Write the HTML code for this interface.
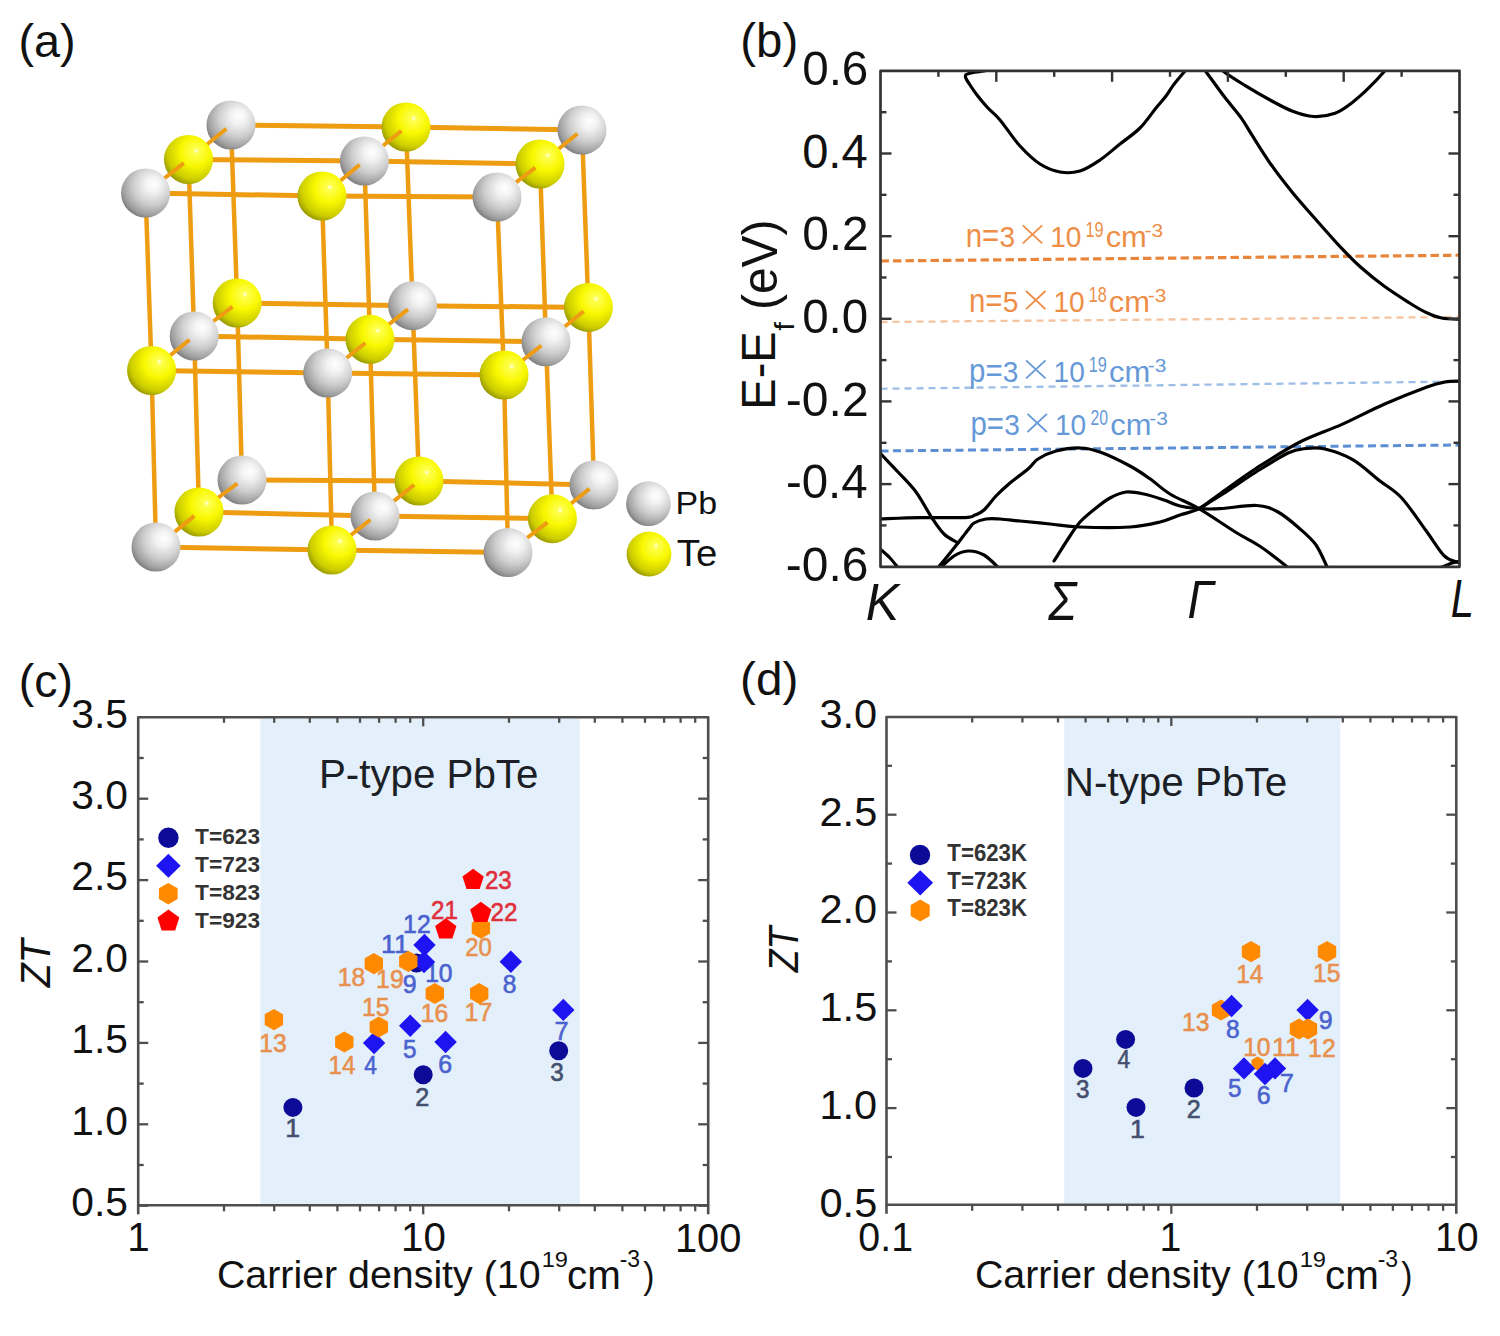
<!DOCTYPE html>
<html><head><meta charset="utf-8"><style>
html,body{margin:0;padding:0;background:#fff;}
svg{display:block;}
text{font-family:"Liberation Sans", sans-serif;}
</style></head><body>
<svg width="1500" height="1336" viewBox="0 0 1500 1336">
<rect width="1500" height="1336" fill="#fff"/>
<defs>
<radialGradient id="gG" cx="0.62" cy="0.36" r="0.72" fx="0.66" fy="0.32">
<stop offset="0" stop-color="#ffffff"/><stop offset="0.22" stop-color="#f2f2f2"/><stop offset="0.55" stop-color="#cdcdcd"/><stop offset="0.82" stop-color="#a0a0a0"/><stop offset="1" stop-color="#6e6e6e"/></radialGradient>
<radialGradient id="gY" cx="0.62" cy="0.36" r="0.72" fx="0.66" fy="0.32">
<stop offset="0" stop-color="#ffffe8"/><stop offset="0.08" stop-color="#ffff50"/><stop offset="0.42" stop-color="#f8f800"/><stop offset="0.78" stop-color="#cccc00"/><stop offset="1" stop-color="#888800"/></radialGradient>
</defs>
<line x1="231.0" y1="125.0" x2="406.0" y2="127.0" stroke="#EE9C12" stroke-width="5" />
<line x1="406.0" y1="127.0" x2="582.0" y2="130.0" stroke="#EE9C12" stroke-width="5" />
<line x1="237.2" y1="303.0" x2="412.6" y2="305.7" stroke="#EE9C12" stroke-width="5" />
<line x1="412.6" y1="305.7" x2="588.4" y2="307.4" stroke="#EE9C12" stroke-width="5" />
<line x1="242.0" y1="480.0" x2="419.0" y2="481.0" stroke="#EE9C12" stroke-width="5" />
<line x1="419.0" y1="481.0" x2="594.0" y2="485.0" stroke="#EE9C12" stroke-width="5" />
<line x1="231.0" y1="125.0" x2="237.2" y2="303.0" stroke="#EE9C12" stroke-width="4.5" />
<line x1="237.2" y1="303.0" x2="242.0" y2="480.0" stroke="#EE9C12" stroke-width="4.5" />
<line x1="406.0" y1="127.0" x2="412.6" y2="305.7" stroke="#EE9C12" stroke-width="4.5" />
<line x1="412.6" y1="305.7" x2="419.0" y2="481.0" stroke="#EE9C12" stroke-width="4.5" />
<line x1="582.0" y1="130.0" x2="588.4" y2="307.4" stroke="#EE9C12" stroke-width="4.5" />
<line x1="588.4" y1="307.4" x2="594.0" y2="485.0" stroke="#EE9C12" stroke-width="4.5" />
<circle cx="231.0" cy="125.0" r="24.5" fill="url(#gG)" />
<circle cx="406.0" cy="127.0" r="24.5" fill="url(#gY)" />
<circle cx="582.0" cy="130.0" r="24.5" fill="url(#gG)" />
<circle cx="237.2" cy="303.0" r="24.5" fill="url(#gY)" />
<circle cx="412.6" cy="305.7" r="24.5" fill="url(#gG)" />
<circle cx="588.4" cy="307.4" r="24.5" fill="url(#gY)" />
<circle cx="242.0" cy="480.0" r="24.5" fill="url(#gG)" />
<circle cx="419.0" cy="481.0" r="24.5" fill="url(#gY)" />
<circle cx="594.0" cy="485.0" r="24.5" fill="url(#gG)" />
<line x1="226.3" y1="128.8" x2="188.5" y2="159.5" stroke="#EE9C12" stroke-width="4.0" />
<line x1="401.4" y1="130.7" x2="364.4" y2="161.0" stroke="#EE9C12" stroke-width="4.0" />
<line x1="577.4" y1="133.7" x2="540.0" y2="164.0" stroke="#EE9C12" stroke-width="4.0" />
<line x1="232.5" y1="306.6" x2="194.2" y2="336.0" stroke="#EE9C12" stroke-width="4.0" />
<line x1="407.9" y1="309.4" x2="370.0" y2="339.3" stroke="#EE9C12" stroke-width="4.0" />
<line x1="583.7" y1="311.2" x2="546.0" y2="341.8" stroke="#EE9C12" stroke-width="4.0" />
<line x1="237.3" y1="483.5" x2="199.0" y2="512.0" stroke="#EE9C12" stroke-width="4.0" />
<line x1="414.2" y1="484.9" x2="375.0" y2="516.0" stroke="#EE9C12" stroke-width="4.0" />
<line x1="589.4" y1="488.7" x2="552.4" y2="518.7" stroke="#EE9C12" stroke-width="4.0" />
<line x1="188.5" y1="159.5" x2="364.4" y2="161.0" stroke="#EE9C12" stroke-width="5" />
<line x1="364.4" y1="161.0" x2="540.0" y2="164.0" stroke="#EE9C12" stroke-width="5" />
<line x1="194.2" y1="336.0" x2="370.0" y2="339.3" stroke="#EE9C12" stroke-width="5" />
<line x1="370.0" y1="339.3" x2="546.0" y2="341.8" stroke="#EE9C12" stroke-width="5" />
<line x1="199.0" y1="512.0" x2="375.0" y2="516.0" stroke="#EE9C12" stroke-width="5" />
<line x1="375.0" y1="516.0" x2="552.4" y2="518.7" stroke="#EE9C12" stroke-width="5" />
<line x1="188.5" y1="159.5" x2="194.2" y2="336.0" stroke="#EE9C12" stroke-width="4.5" />
<line x1="194.2" y1="336.0" x2="199.0" y2="512.0" stroke="#EE9C12" stroke-width="4.5" />
<line x1="364.4" y1="161.0" x2="370.0" y2="339.3" stroke="#EE9C12" stroke-width="4.5" />
<line x1="370.0" y1="339.3" x2="375.0" y2="516.0" stroke="#EE9C12" stroke-width="4.5" />
<line x1="540.0" y1="164.0" x2="546.0" y2="341.8" stroke="#EE9C12" stroke-width="4.5" />
<line x1="546.0" y1="341.8" x2="552.4" y2="518.7" stroke="#EE9C12" stroke-width="4.5" />
<circle cx="188.5" cy="159.5" r="24.5" fill="url(#gY)" />
<circle cx="364.4" cy="161.0" r="24.5" fill="url(#gG)" />
<circle cx="540.0" cy="164.0" r="24.5" fill="url(#gY)" />
<circle cx="194.2" cy="336.0" r="24.5" fill="url(#gG)" />
<circle cx="370.0" cy="339.3" r="24.5" fill="url(#gY)" />
<circle cx="546.0" cy="341.8" r="24.5" fill="url(#gG)" />
<circle cx="199.0" cy="512.0" r="24.5" fill="url(#gY)" />
<circle cx="375.0" cy="516.0" r="24.5" fill="url(#gG)" />
<circle cx="552.4" cy="518.7" r="24.5" fill="url(#gY)" />
<line x1="183.8" y1="163.2" x2="145.6" y2="193.0" stroke="#EE9C12" stroke-width="4.0" />
<line x1="359.7" y1="164.8" x2="322.0" y2="196.0" stroke="#EE9C12" stroke-width="4.0" />
<line x1="535.3" y1="167.6" x2="497.0" y2="197.0" stroke="#EE9C12" stroke-width="4.0" />
<line x1="189.5" y1="339.8" x2="151.6" y2="370.5" stroke="#EE9C12" stroke-width="4.0" />
<line x1="365.3" y1="343.0" x2="327.7" y2="373.0" stroke="#EE9C12" stroke-width="4.0" />
<line x1="541.4" y1="345.5" x2="504.0" y2="375.0" stroke="#EE9C12" stroke-width="4.0" />
<line x1="194.3" y1="515.9" x2="156.0" y2="547.0" stroke="#EE9C12" stroke-width="4.0" />
<line x1="370.3" y1="519.7" x2="332.0" y2="550.0" stroke="#EE9C12" stroke-width="4.0" />
<line x1="547.5" y1="522.4" x2="508.0" y2="552.5" stroke="#EE9C12" stroke-width="4.0" />
<line x1="145.6" y1="193.0" x2="322.0" y2="196.0" stroke="#EE9C12" stroke-width="5" />
<line x1="322.0" y1="196.0" x2="497.0" y2="197.0" stroke="#EE9C12" stroke-width="5" />
<line x1="151.6" y1="370.5" x2="327.7" y2="373.0" stroke="#EE9C12" stroke-width="5" />
<line x1="327.7" y1="373.0" x2="504.0" y2="375.0" stroke="#EE9C12" stroke-width="5" />
<line x1="156.0" y1="547.0" x2="332.0" y2="550.0" stroke="#EE9C12" stroke-width="5" />
<line x1="332.0" y1="550.0" x2="508.0" y2="552.5" stroke="#EE9C12" stroke-width="5" />
<line x1="145.6" y1="193.0" x2="151.6" y2="370.5" stroke="#EE9C12" stroke-width="4.5" />
<line x1="151.6" y1="370.5" x2="156.0" y2="547.0" stroke="#EE9C12" stroke-width="4.5" />
<line x1="322.0" y1="196.0" x2="327.7" y2="373.0" stroke="#EE9C12" stroke-width="4.5" />
<line x1="327.7" y1="373.0" x2="332.0" y2="550.0" stroke="#EE9C12" stroke-width="4.5" />
<line x1="497.0" y1="197.0" x2="504.0" y2="375.0" stroke="#EE9C12" stroke-width="4.5" />
<line x1="504.0" y1="375.0" x2="508.0" y2="552.5" stroke="#EE9C12" stroke-width="4.5" />
<circle cx="145.6" cy="193.0" r="24.5" fill="url(#gG)" />
<circle cx="322.0" cy="196.0" r="24.5" fill="url(#gY)" />
<circle cx="497.0" cy="197.0" r="24.5" fill="url(#gG)" />
<circle cx="151.6" cy="370.5" r="24.5" fill="url(#gY)" />
<circle cx="327.7" cy="373.0" r="24.5" fill="url(#gG)" />
<circle cx="504.0" cy="375.0" r="24.5" fill="url(#gY)" />
<circle cx="156.0" cy="547.0" r="24.5" fill="url(#gG)" />
<circle cx="332.0" cy="550.0" r="24.5" fill="url(#gY)" />
<circle cx="508.0" cy="552.5" r="24.5" fill="url(#gG)" />
<circle cx="648.5" cy="503.7" r="22.4" fill="url(#gG)" />
<circle cx="649.0" cy="554.0" r="22.4" fill="url(#gY)" />
<text x="675.62" y="514.00" font-size="30.91" fill="#111" textLength="41.51" lengthAdjust="spacingAndGlyphs" >Pb</text>
<text x="676.72" y="566.00" font-size="37.79" fill="#111" textLength="40.52" lengthAdjust="spacingAndGlyphs" >Te</text>
<text x="18.40" y="57.06" font-size="46.58" fill="#111" textLength="57.21" lengthAdjust="spacingAndGlyphs" >(a)</text>
<line x1="880.5" y1="261.0" x2="1459.5" y2="255.2" stroke="#E8853A" stroke-width="3.2" stroke-dasharray="8.4 4.1"/>
<line x1="880.5" y1="322.0" x2="1459.5" y2="317.0" stroke="#F6C3A0" stroke-width="2.3" stroke-dasharray="7 5"/>
<line x1="880.5" y1="388.8" x2="1459.5" y2="381.5" stroke="#9DBEE6" stroke-width="2.3" stroke-dasharray="7 5"/>
<line x1="880.5" y1="451.0" x2="1459.5" y2="445.0" stroke="#5B8ED2" stroke-width="3.0" stroke-dasharray="8 4.5"/>
<clipPath id="cb"><rect x="880.5" y="70.8" width="579.0" height="495.99999999999994"/></clipPath>
<g clip-path="url(#cb)">
<path d="M990.0,70.0 C986.5,70.6 973.1,72.3 969.0,73.5 C964.9,74.7 965.3,75.1 965.5,77.0 C965.7,78.9 968.1,82.0 970.0,85.0 C971.9,88.0 974.2,91.3 977.0,95.0 C979.8,98.7 983.2,102.8 987.0,107.0 C990.8,111.2 994.5,113.5 1000.0,120.0 C1005.5,126.5 1013.3,138.7 1020.0,146.0 C1026.7,153.3 1033.3,159.7 1040.0,164.0 C1046.7,168.3 1053.3,170.8 1060.0,172.0 C1066.7,173.2 1073.3,173.0 1080.0,171.0 C1086.7,169.0 1093.3,164.5 1100.0,160.0 C1106.7,155.5 1113.3,149.3 1120.0,144.0 C1126.7,138.7 1134.0,134.0 1140.0,128.0 C1146.0,122.0 1151.7,113.3 1156.0,108.0 C1160.3,102.7 1163.2,99.7 1166.0,96.0 C1168.8,92.3 1170.1,89.5 1173.0,85.6 C1175.9,81.7 1180.7,76.1 1183.5,72.8 C1186.3,69.5 1188.9,67.1 1190.0,66.0" fill="none" stroke="#000" stroke-width="3.2" stroke-linejoin="round" stroke-linecap="round" />
<path d="M1200.0,64.0 C1201.0,65.3 1202.0,66.3 1206.0,71.7 C1210.0,77.1 1218.2,88.7 1224.0,96.3 C1229.8,103.9 1236.4,111.2 1241.0,117.6 C1245.6,124.0 1246.7,126.9 1251.7,134.7 C1256.7,142.5 1264.3,154.9 1271.0,164.5 C1277.7,174.1 1284.2,182.4 1292.0,192.0 C1299.8,201.6 1309.8,212.7 1318.0,222.0 C1326.2,231.3 1333.9,240.2 1341.0,247.7 C1348.1,255.2 1353.3,260.6 1360.5,267.0 C1367.7,273.4 1375.8,280.0 1384.0,286.0 C1392.2,292.0 1402.5,298.5 1409.6,303.0 C1416.7,307.5 1421.4,310.3 1426.7,312.8 C1432.0,315.3 1435.7,316.9 1441.6,318.0 C1447.5,319.1 1458.6,319.2 1462.0,319.5" fill="none" stroke="#000" stroke-width="3.2" stroke-linejoin="round" stroke-linecap="round" />
<path d="M1218.0,64.0 C1219.0,65.3 1219.5,68.1 1224.0,71.7 C1228.5,75.3 1237.5,80.8 1245.3,85.6 C1253.1,90.4 1263.2,96.3 1271.0,100.5 C1278.8,104.7 1284.9,108.3 1292.0,111.0 C1299.1,113.7 1306.4,116.1 1313.6,116.5 C1320.8,116.9 1328.6,115.6 1335.0,113.3 C1341.4,111.0 1346.3,107.0 1352.0,102.7 C1357.7,98.4 1363.7,92.9 1369.0,87.7 C1374.3,82.5 1380.5,75.7 1384.0,71.7 C1387.5,67.8 1389.0,65.3 1390.0,64.0" fill="none" stroke="#000" stroke-width="3.2" stroke-linejoin="round" stroke-linecap="round" />
<path d="M878.0,450.0 C878.3,450.5 876.7,449.3 880.0,453.0 C883.3,456.7 892.0,465.5 898.0,472.0 C904.0,478.5 910.3,484.3 916.0,492.0 C921.7,499.7 927.3,511.0 932.0,518.0 C936.7,525.0 939.7,529.8 944.0,534.0 C948.3,538.2 955.7,541.5 958.0,543.0" fill="none" stroke="#000" stroke-width="3.2" stroke-linejoin="round" stroke-linecap="round" />
<path d="M936.0,570.0 C937.7,568.0 942.3,562.5 946.0,558.0 C949.7,553.5 954.3,547.7 958.0,543.0 C961.7,538.3 965.3,533.3 968.0,530.0 C970.7,526.7 971.0,524.8 974.0,523.0 C977.0,521.2 981.7,519.7 986.0,519.0 C990.3,518.3 994.3,518.7 1000.0,519.0 C1005.7,519.3 1011.7,520.2 1020.0,521.0 C1028.3,521.8 1040.0,523.0 1050.0,524.0 C1060.0,525.0 1066.7,526.5 1080.0,527.0 C1093.3,527.5 1116.7,527.8 1130.0,527.0 C1143.3,526.2 1151.7,524.0 1160.0,522.0 C1168.3,520.0 1173.5,517.2 1180.0,515.0 C1186.5,512.8 1192.3,512.2 1199.0,508.7 C1205.7,505.1 1210.4,500.5 1220.0,493.7 C1229.6,486.9 1243.5,476.5 1256.7,468.0 C1269.9,459.5 1284.8,449.8 1299.0,442.5 C1313.2,435.2 1327.7,430.8 1342.0,424.4 C1356.3,418.0 1370.5,410.2 1384.7,404.0 C1398.9,397.8 1417.0,390.7 1427.0,387.0 C1437.0,383.3 1439.2,383.0 1445.0,382.0 C1450.8,381.0 1459.2,381.2 1462.0,381.0" fill="none" stroke="#000" stroke-width="3.2" stroke-linejoin="round" stroke-linecap="round" />
<path d="M878.0,519.0 C885.0,518.8 905.5,517.8 920.0,517.6 C934.5,517.4 955.8,518.0 965.0,517.6 C974.2,517.2 971.8,516.3 975.0,515.0 C978.2,513.7 980.5,513.2 984.0,510.0 C987.5,506.8 991.7,500.5 996.0,496.0 C1000.3,491.5 1004.7,487.5 1010.0,483.0 C1015.3,478.5 1023.3,473.0 1028.0,469.0 C1032.7,465.0 1033.3,462.0 1038.0,459.0 C1042.7,456.0 1049.0,452.8 1056.0,451.0 C1063.0,449.2 1072.7,447.8 1080.0,448.0 C1087.3,448.2 1091.7,449.0 1100.0,452.0 C1108.3,455.0 1121.7,461.5 1130.0,466.0 C1138.3,470.5 1143.3,474.1 1150.0,478.8 C1156.7,483.5 1161.8,489.0 1170.0,494.0 C1178.2,499.0 1188.1,502.4 1199.0,508.7 C1209.9,515.0 1225.0,525.6 1235.3,532.0 C1245.6,538.4 1251.9,540.8 1261.0,547.0 C1270.1,553.2 1285.2,565.3 1290.0,569.0" fill="none" stroke="#000" stroke-width="3.2" stroke-linejoin="round" stroke-linecap="round" />
<path d="M938.0,570.0 C940.7,567.7 949.0,559.2 954.0,556.0 C959.0,552.8 963.0,551.2 968.0,551.0 C973.0,550.8 978.7,552.0 984.0,555.0 C989.3,558.0 997.3,566.7 1000.0,569.0" fill="none" stroke="#000" stroke-width="3.2" stroke-linejoin="round" stroke-linecap="round" />
<path d="M878.0,548.0 C878.3,548.2 878.0,547.3 880.0,549.0 C882.0,550.7 886.8,554.7 890.0,558.0 C893.2,561.3 897.5,567.2 899.0,569.0" fill="none" stroke="#000" stroke-width="3.2" stroke-linejoin="round" stroke-linecap="round" />
<path d="M1054.0,561.0 C1056.7,556.8 1065.7,542.5 1070.0,536.0 C1074.3,529.5 1075.7,526.7 1080.0,522.0 C1084.3,517.3 1091.0,512.0 1096.0,508.0 C1101.0,504.0 1105.0,500.7 1110.0,498.0 C1115.0,495.3 1120.3,492.7 1126.0,492.0 C1131.7,491.3 1137.7,492.7 1144.0,494.0 C1150.3,495.3 1158.0,498.0 1164.0,500.0 C1170.0,502.0 1174.2,504.6 1180.0,506.0 C1185.8,507.4 1192.3,508.2 1199.0,508.7 C1205.7,509.1 1210.4,509.2 1220.0,508.7 C1229.6,508.2 1247.0,504.9 1256.7,505.5 C1266.4,506.1 1271.0,508.2 1278.0,512.0 C1285.0,515.8 1292.7,522.5 1299.0,528.0 C1305.3,533.5 1311.2,538.2 1316.0,545.0 C1320.8,551.8 1326.0,565.0 1328.0,569.0" fill="none" stroke="#000" stroke-width="3.2" stroke-linejoin="round" stroke-linecap="round" />
<path d="M1199.0,508.7 C1202.8,506.3 1212.5,500.6 1222.0,494.5 C1231.5,488.4 1245.0,478.9 1256.0,472.0 C1267.0,465.1 1279.7,456.9 1288.0,453.0 C1296.3,449.1 1299.8,449.2 1306.0,448.5 C1312.2,447.8 1317.2,447.1 1325.0,449.0 C1332.8,450.9 1343.5,454.3 1352.7,459.6 C1361.9,464.9 1371.8,474.6 1380.0,481.0 C1388.2,487.4 1393.9,489.5 1401.7,498.0 C1409.5,506.5 1420.0,522.4 1427.0,532.0 C1434.0,541.6 1439.0,550.6 1444.0,555.6 C1449.0,560.6 1454.0,560.8 1457.0,562.0 C1460.0,563.2 1461.2,562.8 1462.0,563.0" fill="none" stroke="#000" stroke-width="3.2" stroke-linejoin="round" stroke-linecap="round" />
<path d="M1440.0,568.0 C1442.0,567.2 1448.3,564.2 1452.0,563.0 C1455.7,561.8 1460.3,561.3 1462.0,561.0" fill="none" stroke="#000" stroke-width="3.2" stroke-linejoin="round" stroke-linecap="round" />
</g>
<rect x="880.5" y="70.8" width="579.0" height="495.99999999999994" fill="none" stroke="#333" stroke-width="2.7" stroke-linejoin="round"/>
<line x1="880.5" y1="525.4" x2="886.5" y2="525.4" stroke="#333" stroke-width="2.4" />
<line x1="1459.5" y1="525.4" x2="1453.5" y2="525.4" stroke="#333" stroke-width="2.4" />
<line x1="880.5" y1="484.1" x2="891.5" y2="484.1" stroke="#333" stroke-width="2.4" />
<line x1="1459.5" y1="484.1" x2="1448.5" y2="484.1" stroke="#333" stroke-width="2.4" />
<line x1="880.5" y1="442.8" x2="886.5" y2="442.8" stroke="#333" stroke-width="2.4" />
<line x1="1459.5" y1="442.8" x2="1453.5" y2="442.8" stroke="#333" stroke-width="2.4" />
<line x1="880.5" y1="401.4" x2="891.5" y2="401.4" stroke="#333" stroke-width="2.4" />
<line x1="1459.5" y1="401.4" x2="1448.5" y2="401.4" stroke="#333" stroke-width="2.4" />
<line x1="880.5" y1="360.1" x2="886.5" y2="360.1" stroke="#333" stroke-width="2.4" />
<line x1="1459.5" y1="360.1" x2="1453.5" y2="360.1" stroke="#333" stroke-width="2.4" />
<line x1="880.5" y1="318.8" x2="891.5" y2="318.8" stroke="#333" stroke-width="2.4" />
<line x1="1459.5" y1="318.8" x2="1448.5" y2="318.8" stroke="#333" stroke-width="2.4" />
<line x1="880.5" y1="277.5" x2="886.5" y2="277.5" stroke="#333" stroke-width="2.4" />
<line x1="1459.5" y1="277.5" x2="1453.5" y2="277.5" stroke="#333" stroke-width="2.4" />
<line x1="880.5" y1="236.2" x2="891.5" y2="236.2" stroke="#333" stroke-width="2.4" />
<line x1="1459.5" y1="236.2" x2="1448.5" y2="236.2" stroke="#333" stroke-width="2.4" />
<line x1="880.5" y1="194.8" x2="886.5" y2="194.8" stroke="#333" stroke-width="2.4" />
<line x1="1459.5" y1="194.8" x2="1453.5" y2="194.8" stroke="#333" stroke-width="2.4" />
<line x1="880.5" y1="153.5" x2="891.5" y2="153.5" stroke="#333" stroke-width="2.4" />
<line x1="1459.5" y1="153.5" x2="1448.5" y2="153.5" stroke="#333" stroke-width="2.4" />
<line x1="880.5" y1="112.2" x2="886.5" y2="112.2" stroke="#333" stroke-width="2.4" />
<line x1="1459.5" y1="112.2" x2="1453.5" y2="112.2" stroke="#333" stroke-width="2.4" />
<line x1="938.4" y1="70.8" x2="938.4" y2="76.8" stroke="#333" stroke-width="2.4" />
<line x1="996.3" y1="70.8" x2="996.3" y2="81.8" stroke="#333" stroke-width="2.4" />
<line x1="1054.2" y1="70.8" x2="1054.2" y2="76.8" stroke="#333" stroke-width="2.4" />
<line x1="1112.1" y1="70.8" x2="1112.1" y2="81.8" stroke="#333" stroke-width="2.4" />
<line x1="1170.0" y1="70.8" x2="1170.0" y2="76.8" stroke="#333" stroke-width="2.4" />
<line x1="1227.9" y1="70.8" x2="1227.9" y2="81.8" stroke="#333" stroke-width="2.4" />
<line x1="1285.8" y1="70.8" x2="1285.8" y2="76.8" stroke="#333" stroke-width="2.4" />
<line x1="1343.7" y1="70.8" x2="1343.7" y2="81.8" stroke="#333" stroke-width="2.4" />
<line x1="1401.6" y1="70.8" x2="1401.6" y2="76.8" stroke="#333" stroke-width="2.4" />
<text x="802.14" y="85.18" font-size="48.69" fill="#111" textLength="66.26" lengthAdjust="spacingAndGlyphs" >0.6</text>
<text x="802.16" y="167.82" font-size="48.69" fill="#111" textLength="65.52" lengthAdjust="spacingAndGlyphs" >0.4</text>
<text x="802.13" y="250.46" font-size="48.69" fill="#111" textLength="66.58" lengthAdjust="spacingAndGlyphs" >0.2</text>
<text x="802.15" y="333.10" font-size="48.69" fill="#111" textLength="66.01" lengthAdjust="spacingAndGlyphs" >0.0</text>
<text x="785.86" y="415.74" font-size="48.69" fill="#111" textLength="82.85" lengthAdjust="spacingAndGlyphs" >-0.2</text>
<text x="785.89" y="498.38" font-size="48.69" fill="#111" textLength="81.80" lengthAdjust="spacingAndGlyphs" >-0.4</text>
<text x="785.87" y="581.02" font-size="48.69" fill="#111" textLength="82.53" lengthAdjust="spacingAndGlyphs" >-0.6</text>
<text x="865.66" y="619.60" font-size="52.33" fill="#111" textLength="33.31" lengthAdjust="spacingAndGlyphs" font-style="italic" >K</text>
<text x="1048.14" y="619.60" font-size="54.65" fill="#111" textLength="28.20" lengthAdjust="spacingAndGlyphs" font-style="italic" >Σ</text>
<text x="1187.56" y="618.00" font-size="53.74" fill="#111" textLength="26.77" lengthAdjust="spacingAndGlyphs" font-style="italic" >Γ</text>
<text x="1450.72" y="617.00" font-size="54.51" fill="#111" textLength="23.20" lengthAdjust="spacingAndGlyphs" font-style="italic" >L</text>
<g transform="rotate(-90)">
<text x="-409.76" y="775.40" font-size="48.11" fill="#111" textLength="78.49" lengthAdjust="spacingAndGlyphs" >E-E</text>
<text x="-330.84" y="794.40" font-size="28.19" fill="#111" textLength="8.70" lengthAdjust="spacingAndGlyphs" >f</text>
<text x="-310.07" y="776.54" font-size="49.05" fill="#111" textLength="90.54" lengthAdjust="spacingAndGlyphs" >(eV)</text>
</g>
<text x="740.36" y="56.92" font-size="47.23" fill="#111" textLength="57.87" lengthAdjust="spacingAndGlyphs" >(b)</text>
<text x="965.75" y="246.50" font-size="32.52" fill="#EE8E46" textLength="33.50" lengthAdjust="spacingAndGlyphs" >n=</text>
<text x="999.53" y="246.52" font-size="29.10" fill="#EE8E46" textLength="15.60" lengthAdjust="spacingAndGlyphs" >3</text>
<line x1="1022.8" y1="225.3" x2="1042.2" y2="243.4" stroke="#EE8E46" stroke-width="1.8" />
<line x1="1042.2" y1="225.3" x2="1022.8" y2="243.4" stroke="#EE8E46" stroke-width="1.8" />
<text x="1050.26" y="246.51" font-size="30.08" fill="#EE8E46" textLength="31.24" lengthAdjust="spacingAndGlyphs" >10</text>
<text x="1085.46" y="236.68" font-size="22.03" fill="#EE8E46" textLength="18.11" lengthAdjust="spacingAndGlyphs" >19</text>
<text x="1105.69" y="246.50" font-size="29.92" fill="#EE8E46" textLength="41.15" lengthAdjust="spacingAndGlyphs" >cm</text>
<text x="1144.57" y="236.71" font-size="19.07" fill="#EE8E46" textLength="18.65" lengthAdjust="spacingAndGlyphs" >-3</text>
<text x="968.95" y="312.20" font-size="32.52" fill="#EE8E46" textLength="33.50" lengthAdjust="spacingAndGlyphs" >n=</text>
<text x="1002.68" y="312.21" font-size="29.52" fill="#EE8E46" textLength="15.60" lengthAdjust="spacingAndGlyphs" >5</text>
<line x1="1026.0" y1="291.0" x2="1045.4" y2="309.1" stroke="#EE8E46" stroke-width="1.8" />
<line x1="1045.4" y1="291.0" x2="1026.0" y2="309.1" stroke="#EE8E46" stroke-width="1.8" />
<text x="1053.46" y="312.21" font-size="30.08" fill="#EE8E46" textLength="31.24" lengthAdjust="spacingAndGlyphs" >10</text>
<text x="1088.66" y="302.38" font-size="22.03" fill="#EE8E46" textLength="18.04" lengthAdjust="spacingAndGlyphs" >18</text>
<text x="1108.89" y="312.20" font-size="29.92" fill="#EE8E46" textLength="41.15" lengthAdjust="spacingAndGlyphs" >cm</text>
<text x="1147.77" y="302.41" font-size="19.07" fill="#EE8E46" textLength="18.65" lengthAdjust="spacingAndGlyphs" >-3</text>
<text x="969.11" y="381.50" font-size="32.55" fill="#6699D8" textLength="33.44" lengthAdjust="spacingAndGlyphs" >p=</text>
<text x="1002.83" y="381.52" font-size="29.10" fill="#6699D8" textLength="15.60" lengthAdjust="spacingAndGlyphs" >3</text>
<line x1="1026.1" y1="360.3" x2="1045.5" y2="378.4" stroke="#6699D8" stroke-width="1.8" />
<line x1="1045.5" y1="360.3" x2="1026.1" y2="378.4" stroke="#6699D8" stroke-width="1.8" />
<text x="1053.56" y="381.51" font-size="30.08" fill="#6699D8" textLength="31.24" lengthAdjust="spacingAndGlyphs" >10</text>
<text x="1088.76" y="371.68" font-size="22.03" fill="#6699D8" textLength="18.11" lengthAdjust="spacingAndGlyphs" >19</text>
<text x="1108.99" y="381.50" font-size="29.92" fill="#6699D8" textLength="41.15" lengthAdjust="spacingAndGlyphs" >cm</text>
<text x="1147.87" y="371.71" font-size="19.07" fill="#6699D8" textLength="18.65" lengthAdjust="spacingAndGlyphs" >-3</text>
<text x="970.51" y="435.10" font-size="32.55" fill="#6699D8" textLength="33.44" lengthAdjust="spacingAndGlyphs" >p=</text>
<text x="1004.23" y="435.12" font-size="29.10" fill="#6699D8" textLength="15.60" lengthAdjust="spacingAndGlyphs" >3</text>
<line x1="1027.5" y1="413.9" x2="1046.9" y2="432.0" stroke="#6699D8" stroke-width="1.8" />
<line x1="1046.9" y1="413.9" x2="1027.5" y2="432.0" stroke="#6699D8" stroke-width="1.8" />
<text x="1054.96" y="435.11" font-size="30.08" fill="#6699D8" textLength="31.24" lengthAdjust="spacingAndGlyphs" >10</text>
<text x="1090.61" y="425.28" font-size="22.03" fill="#6699D8" textLength="17.51" lengthAdjust="spacingAndGlyphs" >20</text>
<text x="1110.39" y="435.10" font-size="29.92" fill="#6699D8" textLength="41.15" lengthAdjust="spacingAndGlyphs" >cm</text>
<text x="1149.27" y="425.31" font-size="19.07" fill="#6699D8" textLength="18.65" lengthAdjust="spacingAndGlyphs" >-3</text>
<rect x="260.5" y="718.5999999999999" width="319.20000000000005" height="485.4" fill="#E3EFFA"/>
<circle cx="168.4" cy="837.7" r="10.2" fill="#0D0A98" />
<polygon points="168.40,853.70 180.70,865.70 168.40,877.70 156.10,865.70" fill="#1E14F2" />
<polygon points="168.30,882.90 177.65,888.30 177.65,899.10 168.30,904.50 158.95,899.10 158.95,888.30" fill="#FF8A00" />
<polygon points="168.40,909.60 179.34,917.55 175.16,930.40 161.64,930.40 157.46,917.55" fill="#FF0000" />
<text x="195.04" y="843.70" font-size="22.91" fill="#333" textLength="65.08" lengthAdjust="spacingAndGlyphs" font-weight="bold" >T=623</text>
<text x="195.04" y="871.70" font-size="22.91" fill="#333" textLength="65.08" lengthAdjust="spacingAndGlyphs" font-weight="bold" >T=723</text>
<text x="195.04" y="899.70" font-size="22.91" fill="#333" textLength="65.08" lengthAdjust="spacingAndGlyphs" font-weight="bold" >T=823</text>
<text x="195.04" y="927.70" font-size="22.91" fill="#333" textLength="65.08" lengthAdjust="spacingAndGlyphs" font-weight="bold" >T=923</text>
<text x="318.96" y="787.60" font-size="40.70" fill="#1c1f26" textLength="219.40" lengthAdjust="spacingAndGlyphs" >P-type PbTe</text>
<text x="285.17" y="1137.20" font-size="26.16" fill="#44506E" textLength="14.83" lengthAdjust="spacingAndGlyphs" stroke="#44506E" stroke-width="0.6">1</text>
<text x="415.13" y="1105.50" font-size="25.78" fill="#44506E" textLength="14.04" lengthAdjust="spacingAndGlyphs" stroke="#44506E" stroke-width="0.6">2</text>
<text x="550.28" y="1081.45" font-size="25.42" fill="#44506E" textLength="13.49" lengthAdjust="spacingAndGlyphs" stroke="#44506E" stroke-width="0.6">3</text>
<text x="364.28" y="1073.60" font-size="26.16" fill="#4A62CF" textLength="12.69" lengthAdjust="spacingAndGlyphs" stroke="#4A62CF" stroke-width="0.6">4</text>
<text x="403.03" y="1057.55" font-size="25.80" fill="#4A62CF" textLength="13.49" lengthAdjust="spacingAndGlyphs" stroke="#4A62CF" stroke-width="0.6">5</text>
<text x="438.23" y="1073.35" font-size="25.42" fill="#4A62CF" textLength="13.86" lengthAdjust="spacingAndGlyphs" stroke="#4A62CF" stroke-width="0.6">6</text>
<text x="554.50" y="1039.80" font-size="26.16" fill="#4A62CF" textLength="14.07" lengthAdjust="spacingAndGlyphs" stroke="#4A62CF" stroke-width="0.6">7</text>
<text x="502.83" y="993.05" font-size="25.42" fill="#4A62CF" textLength="13.63" lengthAdjust="spacingAndGlyphs" stroke="#4A62CF" stroke-width="0.6">8</text>
<text x="402.63" y="992.85" font-size="25.42" fill="#4A62CF" textLength="13.85" lengthAdjust="spacingAndGlyphs" stroke="#4A62CF" stroke-width="0.6">9</text>
<text x="425.13" y="982.05" font-size="25.42" fill="#4A62CF" textLength="27.33" lengthAdjust="spacingAndGlyphs" stroke="#4A62CF" stroke-width="0.6">10</text>
<text x="381.11" y="952.80" font-size="26.16" fill="#4A62CF" textLength="27.60" lengthAdjust="spacingAndGlyphs" stroke="#4A62CF" stroke-width="0.6">11</text>
<text x="403.11" y="932.90" font-size="25.78" fill="#4A62CF" textLength="27.64" lengthAdjust="spacingAndGlyphs" stroke="#4A62CF" stroke-width="0.6">12</text>
<text x="259.32" y="1051.85" font-size="25.42" fill="#E8914E" textLength="27.47" lengthAdjust="spacingAndGlyphs" stroke="#E8914E" stroke-width="0.6">13</text>
<text x="328.45" y="1073.60" font-size="26.16" fill="#E8914E" textLength="27.07" lengthAdjust="spacingAndGlyphs" stroke="#E8914E" stroke-width="0.6">14</text>
<text x="362.02" y="1016.45" font-size="25.80" fill="#E8914E" textLength="27.41" lengthAdjust="spacingAndGlyphs" stroke="#E8914E" stroke-width="0.6">15</text>
<text x="420.82" y="1022.05" font-size="25.42" fill="#E8914E" textLength="27.47" lengthAdjust="spacingAndGlyphs" stroke="#E8914E" stroke-width="0.6">16</text>
<text x="464.61" y="1021.30" font-size="26.16" fill="#E8914E" textLength="27.64" lengthAdjust="spacingAndGlyphs" stroke="#E8914E" stroke-width="0.6">17</text>
<text x="337.72" y="985.55" font-size="25.42" fill="#E8914E" textLength="27.45" lengthAdjust="spacingAndGlyphs" stroke="#E8914E" stroke-width="0.6">18</text>
<text x="376.11" y="988.25" font-size="25.42" fill="#E8914E" textLength="27.56" lengthAdjust="spacingAndGlyphs" stroke="#E8914E" stroke-width="0.6">19</text>
<text x="465.30" y="955.75" font-size="25.42" fill="#E8914E" textLength="26.64" lengthAdjust="spacingAndGlyphs" stroke="#E8914E" stroke-width="0.6">20</text>
<text x="430.98" y="918.50" font-size="25.78" fill="#E0303C" textLength="26.90" lengthAdjust="spacingAndGlyphs" stroke="#E0303C" stroke-width="0.6">21</text>
<text x="490.48" y="920.50" font-size="25.78" fill="#E0303C" textLength="26.94" lengthAdjust="spacingAndGlyphs" stroke="#E0303C" stroke-width="0.6">22</text>
<text x="484.89" y="888.55" font-size="25.42" fill="#E0303C" textLength="26.77" lengthAdjust="spacingAndGlyphs" stroke="#E0303C" stroke-width="0.6">23</text>
<circle cx="416.5" cy="963.0" r="9.5" fill="#0D0A98" />
<circle cx="292.9" cy="1107.4" r="9.5" fill="#0D0A98" />
<circle cx="423.2" cy="1074.7" r="9.5" fill="#0D0A98" />
<circle cx="558.7" cy="1050.7" r="9.5" fill="#0D0A98" />
<polygon points="374.10,1031.80 385.30,1043.00 374.10,1054.20 362.90,1043.00" fill="#1E14F2" />
<polygon points="410.20,1014.60 421.40,1025.80 410.20,1037.00 399.00,1025.80" fill="#1E14F2" />
<polygon points="445.60,1030.80 456.80,1042.00 445.60,1053.20 434.40,1042.00" fill="#1E14F2" />
<polygon points="563.30,998.70 574.50,1009.90 563.30,1021.10 552.10,1009.90" fill="#1E14F2" />
<polygon points="510.80,950.50 522.00,961.70 510.80,972.90 499.60,961.70" fill="#1E14F2" />
<polygon points="424.50,933.80 435.70,945.00 424.50,956.20 413.30,945.00" fill="#1E14F2" />
<polygon points="424.00,950.90 435.20,962.10 424.00,973.30 412.80,962.10" fill="#1E14F2" />
<polygon points="273.90,1009.00 283.08,1014.30 283.08,1024.90 273.90,1030.20 264.72,1024.90 264.72,1014.30" fill="#FF8A00" />
<polygon points="344.30,1031.40 353.48,1036.70 353.48,1047.30 344.30,1052.60 335.12,1047.30 335.12,1036.70" fill="#FF8A00" />
<polygon points="378.80,1016.40 387.98,1021.70 387.98,1032.30 378.80,1037.60 369.62,1032.30 369.62,1021.70" fill="#FF8A00" />
<polygon points="434.80,982.90 443.98,988.20 443.98,998.80 434.80,1004.10 425.62,998.80 425.62,988.20" fill="#FF8A00" />
<polygon points="479.20,982.90 488.38,988.20 488.38,998.80 479.20,1004.10 470.02,998.80 470.02,988.20" fill="#FF8A00" />
<polygon points="373.80,953.00 382.98,958.30 382.98,968.90 373.80,974.20 364.62,968.90 364.62,958.30" fill="#FF8A00" />
<polygon points="408.30,950.80 417.48,956.10 417.48,966.70 408.30,972.00 399.12,966.70 399.12,956.10" fill="#FF8A00" />
<polygon points="480.90,917.50 490.08,922.80 490.08,933.40 480.90,938.70 471.72,933.40 471.72,922.80" fill="#FF8A00" />
<polygon points="445.80,918.30 456.45,926.04 452.38,938.56 439.22,938.56 435.15,926.04" fill="#FF0000" />
<polygon points="480.80,901.70 491.45,909.44 487.38,921.96 474.22,921.96 470.15,909.44" fill="#FF0000" />
<polygon points="473.10,868.70 483.75,876.44 479.68,888.96 466.52,888.96 462.45,876.44" fill="#FF0000" />
<rect x="138.2" y="717.3" width="570.0" height="488.0" fill="none" stroke="#4e4e4e" stroke-width="2.6" stroke-linejoin="round"/>
<line x1="138.2" y1="1205.7" x2="148.2" y2="1205.7" stroke="#4e4e4e" stroke-width="2.3" />
<line x1="708.2" y1="1205.7" x2="698.2" y2="1205.7" stroke="#4e4e4e" stroke-width="2.3" />
<line x1="138.2" y1="1124.3" x2="148.2" y2="1124.3" stroke="#4e4e4e" stroke-width="2.3" />
<line x1="708.2" y1="1124.3" x2="698.2" y2="1124.3" stroke="#4e4e4e" stroke-width="2.3" />
<line x1="138.2" y1="1042.9" x2="148.2" y2="1042.9" stroke="#4e4e4e" stroke-width="2.3" />
<line x1="708.2" y1="1042.9" x2="698.2" y2="1042.9" stroke="#4e4e4e" stroke-width="2.3" />
<line x1="138.2" y1="961.5" x2="148.2" y2="961.5" stroke="#4e4e4e" stroke-width="2.3" />
<line x1="708.2" y1="961.5" x2="698.2" y2="961.5" stroke="#4e4e4e" stroke-width="2.3" />
<line x1="138.2" y1="880.1" x2="148.2" y2="880.1" stroke="#4e4e4e" stroke-width="2.3" />
<line x1="708.2" y1="880.1" x2="698.2" y2="880.1" stroke="#4e4e4e" stroke-width="2.3" />
<line x1="138.2" y1="798.7" x2="148.2" y2="798.7" stroke="#4e4e4e" stroke-width="2.3" />
<line x1="708.2" y1="798.7" x2="698.2" y2="798.7" stroke="#4e4e4e" stroke-width="2.3" />
<line x1="138.2" y1="1165.0" x2="143.7" y2="1165.0" stroke="#4e4e4e" stroke-width="2.3" />
<line x1="708.2" y1="1165.0" x2="702.7" y2="1165.0" stroke="#4e4e4e" stroke-width="2.3" />
<line x1="138.2" y1="1083.6" x2="143.7" y2="1083.6" stroke="#4e4e4e" stroke-width="2.3" />
<line x1="708.2" y1="1083.6" x2="702.7" y2="1083.6" stroke="#4e4e4e" stroke-width="2.3" />
<line x1="138.2" y1="1002.2" x2="143.7" y2="1002.2" stroke="#4e4e4e" stroke-width="2.3" />
<line x1="708.2" y1="1002.2" x2="702.7" y2="1002.2" stroke="#4e4e4e" stroke-width="2.3" />
<line x1="138.2" y1="920.8" x2="143.7" y2="920.8" stroke="#4e4e4e" stroke-width="2.3" />
<line x1="708.2" y1="920.8" x2="702.7" y2="920.8" stroke="#4e4e4e" stroke-width="2.3" />
<line x1="138.2" y1="839.4" x2="143.7" y2="839.4" stroke="#4e4e4e" stroke-width="2.3" />
<line x1="708.2" y1="839.4" x2="702.7" y2="839.4" stroke="#4e4e4e" stroke-width="2.3" />
<line x1="138.2" y1="758.0" x2="143.7" y2="758.0" stroke="#4e4e4e" stroke-width="2.3" />
<line x1="708.2" y1="758.0" x2="702.7" y2="758.0" stroke="#4e4e4e" stroke-width="2.3" />
<line x1="423.2" y1="1205.3" x2="423.2" y2="1214.3" stroke="#4e4e4e" stroke-width="2.3" />
<line x1="423.2" y1="717.3" x2="423.2" y2="726.3" stroke="#4e4e4e" stroke-width="2.3" />
<line x1="224.0" y1="1205.3" x2="224.0" y2="1211.3" stroke="#4e4e4e" stroke-width="2.3" />
<line x1="224.0" y1="717.3" x2="224.0" y2="722.8" stroke="#4e4e4e" stroke-width="2.3" />
<line x1="274.2" y1="1205.3" x2="274.2" y2="1211.3" stroke="#4e4e4e" stroke-width="2.3" />
<line x1="274.2" y1="717.3" x2="274.2" y2="722.8" stroke="#4e4e4e" stroke-width="2.3" />
<line x1="309.8" y1="1205.3" x2="309.8" y2="1211.3" stroke="#4e4e4e" stroke-width="2.3" />
<line x1="309.8" y1="717.3" x2="309.8" y2="722.8" stroke="#4e4e4e" stroke-width="2.3" />
<line x1="337.4" y1="1205.3" x2="337.4" y2="1211.3" stroke="#4e4e4e" stroke-width="2.3" />
<line x1="337.4" y1="717.3" x2="337.4" y2="722.8" stroke="#4e4e4e" stroke-width="2.3" />
<line x1="360.0" y1="1205.3" x2="360.0" y2="1211.3" stroke="#4e4e4e" stroke-width="2.3" />
<line x1="360.0" y1="717.3" x2="360.0" y2="722.8" stroke="#4e4e4e" stroke-width="2.3" />
<line x1="379.1" y1="1205.3" x2="379.1" y2="1211.3" stroke="#4e4e4e" stroke-width="2.3" />
<line x1="379.1" y1="717.3" x2="379.1" y2="722.8" stroke="#4e4e4e" stroke-width="2.3" />
<line x1="395.6" y1="1205.3" x2="395.6" y2="1211.3" stroke="#4e4e4e" stroke-width="2.3" />
<line x1="395.6" y1="717.3" x2="395.6" y2="722.8" stroke="#4e4e4e" stroke-width="2.3" />
<line x1="410.2" y1="1205.3" x2="410.2" y2="1211.3" stroke="#4e4e4e" stroke-width="2.3" />
<line x1="410.2" y1="717.3" x2="410.2" y2="722.8" stroke="#4e4e4e" stroke-width="2.3" />
<line x1="509.0" y1="1205.3" x2="509.0" y2="1211.3" stroke="#4e4e4e" stroke-width="2.3" />
<line x1="509.0" y1="717.3" x2="509.0" y2="722.8" stroke="#4e4e4e" stroke-width="2.3" />
<line x1="559.2" y1="1205.3" x2="559.2" y2="1211.3" stroke="#4e4e4e" stroke-width="2.3" />
<line x1="559.2" y1="717.3" x2="559.2" y2="722.8" stroke="#4e4e4e" stroke-width="2.3" />
<line x1="594.8" y1="1205.3" x2="594.8" y2="1211.3" stroke="#4e4e4e" stroke-width="2.3" />
<line x1="594.8" y1="717.3" x2="594.8" y2="722.8" stroke="#4e4e4e" stroke-width="2.3" />
<line x1="622.4" y1="1205.3" x2="622.4" y2="1211.3" stroke="#4e4e4e" stroke-width="2.3" />
<line x1="622.4" y1="717.3" x2="622.4" y2="722.8" stroke="#4e4e4e" stroke-width="2.3" />
<line x1="645.0" y1="1205.3" x2="645.0" y2="1211.3" stroke="#4e4e4e" stroke-width="2.3" />
<line x1="645.0" y1="717.3" x2="645.0" y2="722.8" stroke="#4e4e4e" stroke-width="2.3" />
<line x1="664.1" y1="1205.3" x2="664.1" y2="1211.3" stroke="#4e4e4e" stroke-width="2.3" />
<line x1="664.1" y1="717.3" x2="664.1" y2="722.8" stroke="#4e4e4e" stroke-width="2.3" />
<line x1="680.6" y1="1205.3" x2="680.6" y2="1211.3" stroke="#4e4e4e" stroke-width="2.3" />
<line x1="680.6" y1="717.3" x2="680.6" y2="722.8" stroke="#4e4e4e" stroke-width="2.3" />
<line x1="695.2" y1="1205.3" x2="695.2" y2="1211.3" stroke="#4e4e4e" stroke-width="2.3" />
<line x1="695.2" y1="717.3" x2="695.2" y2="722.8" stroke="#4e4e4e" stroke-width="2.3" />
<line x1="138.2" y1="1205.3" x2="138.2" y2="1214.3" stroke="#4e4e4e" stroke-width="2.6" />
<line x1="708.2" y1="1205.3" x2="708.2" y2="1214.3" stroke="#4e4e4e" stroke-width="2.6" />
<text x="71.35" y="727.60" font-size="41.52" fill="#111" textLength="56.66" lengthAdjust="spacingAndGlyphs" >3.5</text>
<text x="71.23" y="809.00" font-size="41.52" fill="#111" textLength="56.66" lengthAdjust="spacingAndGlyphs" >3.0</text>
<text x="71.35" y="890.40" font-size="41.52" fill="#111" textLength="56.66" lengthAdjust="spacingAndGlyphs" >2.5</text>
<text x="71.23" y="971.80" font-size="41.52" fill="#111" textLength="56.66" lengthAdjust="spacingAndGlyphs" >2.0</text>
<text x="71.35" y="1053.20" font-size="41.52" fill="#111" textLength="56.66" lengthAdjust="spacingAndGlyphs" >1.5</text>
<text x="71.23" y="1134.60" font-size="41.52" fill="#111" textLength="56.66" lengthAdjust="spacingAndGlyphs" >1.0</text>
<text x="71.35" y="1216.00" font-size="41.52" fill="#111" textLength="56.66" lengthAdjust="spacingAndGlyphs" >0.5</text>
<text x="127.33" y="1251.10" font-size="40.40" fill="#111" textLength="22.42" lengthAdjust="spacingAndGlyphs" >1</text>
<text x="401.03" y="1251.10" font-size="40.40" fill="#111" textLength="44.85" lengthAdjust="spacingAndGlyphs" >10</text>
<text x="674.96" y="1251.70" font-size="40.96" fill="#111" textLength="66.49" lengthAdjust="spacingAndGlyphs" >100</text>
<text x="216.90" y="1287.62" font-size="38.94" fill="#111" textLength="323.64" lengthAdjust="spacingAndGlyphs" >Carrier density (10</text>
<text x="541.70" y="1267.18" font-size="22.60" fill="#111" textLength="26.32" lengthAdjust="spacingAndGlyphs" >19</text>
<text x="567.09" y="1288.90" font-size="40.33" fill="#111" textLength="53.77" lengthAdjust="spacingAndGlyphs" >cm</text>
<text x="619.68" y="1267.17" font-size="23.45" fill="#111" textLength="20.43" lengthAdjust="spacingAndGlyphs" >-3</text>
<text x="643.30" y="1287.97" font-size="37.35" fill="#111" textLength="11.18" lengthAdjust="spacingAndGlyphs" >)</text>
<g transform="rotate(-90)">
<text x="-987.33" y="50.40" font-size="42.44" fill="#111" textLength="47.92" lengthAdjust="spacingAndGlyphs" font-style="italic" >ZT</text>
</g>
<text x="18.72" y="697.40" font-size="46.37" fill="#111" textLength="54.16" lengthAdjust="spacingAndGlyphs" >(c)</text>
<rect x="1064.2" y="718.3" width="276.0999999999999" height="485.19999999999993" fill="#E3EFFA"/>
<circle cx="920.0" cy="855.0" r="10.2" fill="#0D0A98" />
<polygon points="920.20,870.20 933.10,882.80 920.20,895.40 907.30,882.80" fill="#1E14F2" />
<polygon points="920.20,899.40 929.73,904.90 929.73,915.90 920.20,921.40 910.67,915.90 910.67,904.90" fill="#FF8A00" />
<text x="947.35" y="861.20" font-size="24.06" fill="#333" textLength="79.66" lengthAdjust="spacingAndGlyphs" font-weight="bold" >T=623K</text>
<text x="947.35" y="888.80" font-size="24.06" fill="#333" textLength="79.66" lengthAdjust="spacingAndGlyphs" font-weight="bold" >T=723K</text>
<text x="947.35" y="916.40" font-size="24.06" fill="#333" textLength="79.66" lengthAdjust="spacingAndGlyphs" font-weight="bold" >T=823K</text>
<text x="1064.75" y="795.60" font-size="40.12" fill="#1c1f26" textLength="222.51" lengthAdjust="spacingAndGlyphs" >N-type PbTe</text>
<text x="1076.08" y="1097.55" font-size="25.42" fill="#44506E" textLength="13.49" lengthAdjust="spacingAndGlyphs" stroke="#44506E" stroke-width="0.6">3</text>
<text x="1117.48" y="1067.80" font-size="26.16" fill="#44506E" textLength="12.69" lengthAdjust="spacingAndGlyphs" stroke="#44506E" stroke-width="0.6">4</text>
<text x="1129.97" y="1137.80" font-size="26.16" fill="#44506E" textLength="14.83" lengthAdjust="spacingAndGlyphs" stroke="#44506E" stroke-width="0.6">1</text>
<text x="1186.73" y="1117.80" font-size="25.78" fill="#44506E" textLength="14.04" lengthAdjust="spacingAndGlyphs" stroke="#44506E" stroke-width="0.6">2</text>
<text x="1236.15" y="982.80" font-size="26.16" fill="#E8914E" textLength="27.07" lengthAdjust="spacingAndGlyphs" stroke="#E8914E" stroke-width="0.6">14</text>
<text x="1313.12" y="981.55" font-size="25.80" fill="#E8914E" textLength="27.41" lengthAdjust="spacingAndGlyphs" stroke="#E8914E" stroke-width="0.6">15</text>
<text x="1182.12" y="1030.55" font-size="25.42" fill="#E8914E" textLength="27.47" lengthAdjust="spacingAndGlyphs" stroke="#E8914E" stroke-width="0.6">13</text>
<text x="1243.13" y="1055.55" font-size="25.42" fill="#E8914E" textLength="27.33" lengthAdjust="spacingAndGlyphs" stroke="#E8914E" stroke-width="0.6">10</text>
<text x="1272.11" y="1055.80" font-size="26.16" fill="#E8914E" textLength="27.60" lengthAdjust="spacingAndGlyphs" stroke="#E8914E" stroke-width="0.6">11</text>
<text x="1308.11" y="1056.80" font-size="25.78" fill="#E8914E" textLength="27.64" lengthAdjust="spacingAndGlyphs" stroke="#E8914E" stroke-width="0.6">12</text>
<text x="1225.93" y="1037.55" font-size="25.42" fill="#4A62CF" textLength="13.63" lengthAdjust="spacingAndGlyphs" stroke="#4A62CF" stroke-width="0.6">8</text>
<text x="1318.83" y="1028.55" font-size="25.42" fill="#4A62CF" textLength="13.85" lengthAdjust="spacingAndGlyphs" stroke="#4A62CF" stroke-width="0.6">9</text>
<text x="1228.03" y="1096.55" font-size="25.80" fill="#4A62CF" textLength="13.49" lengthAdjust="spacingAndGlyphs" stroke="#4A62CF" stroke-width="0.6">5</text>
<text x="1256.73" y="1103.55" font-size="25.42" fill="#4A62CF" textLength="13.86" lengthAdjust="spacingAndGlyphs" stroke="#4A62CF" stroke-width="0.6">6</text>
<text x="1279.70" y="1091.80" font-size="26.16" fill="#4A62CF" textLength="14.07" lengthAdjust="spacingAndGlyphs" stroke="#4A62CF" stroke-width="0.6">7</text>
<polygon points="1221.00,999.40 1230.18,1004.70 1230.18,1015.30 1221.00,1020.60 1211.82,1015.30 1211.82,1004.70" fill="#FF8A00" />
<polygon points="1257.50,1056.50 1263.56,1060.00 1263.56,1067.00 1257.50,1070.50 1251.44,1067.00 1251.44,1060.00" fill="#FF8A00" />
<circle cx="1083.0" cy="1068.4" r="9.5" fill="#0D0A98" />
<circle cx="1125.6" cy="1039.4" r="9.5" fill="#0D0A98" />
<circle cx="1136.0" cy="1107.4" r="9.5" fill="#0D0A98" />
<circle cx="1194.0" cy="1088.0" r="9.5" fill="#0D0A98" />
<polygon points="1251.00,941.00 1260.18,946.30 1260.18,956.90 1251.00,962.20 1241.82,956.90 1241.82,946.30" fill="#FF8A00" />
<polygon points="1327.00,941.00 1336.18,946.30 1336.18,956.90 1327.00,962.20 1317.82,956.90 1317.82,946.30" fill="#FF8A00" />
<polygon points="1231.60,994.80 1242.80,1006.00 1231.60,1017.20 1220.40,1006.00" fill="#1E14F2" />
<polygon points="1307.60,998.80 1318.80,1010.00 1307.60,1021.20 1296.40,1010.00" fill="#1E14F2" />
<polygon points="1299.00,1018.40 1308.18,1023.70 1308.18,1034.30 1299.00,1039.60 1289.82,1034.30 1289.82,1023.70" fill="#FF8A00" />
<polygon points="1308.00,1018.40 1317.18,1023.70 1317.18,1034.30 1308.00,1039.60 1298.82,1034.30 1298.82,1023.70" fill="#FF8A00" />
<polygon points="1244.00,1057.20 1255.20,1068.40 1244.00,1079.60 1232.80,1068.40" fill="#1E14F2" />
<polygon points="1265.00,1062.80 1276.20,1074.00 1265.00,1085.20 1253.80,1074.00" fill="#1E14F2" />
<polygon points="1275.00,1057.20 1286.20,1068.40 1275.00,1079.60 1263.80,1068.40" fill="#1E14F2" />
<rect x="886.5" y="717.0" width="569.8" height="487.79999999999995" fill="none" stroke="#4e4e4e" stroke-width="2.6" stroke-linejoin="round"/>
<line x1="886.5" y1="1108.1" x2="896.5" y2="1108.1" stroke="#4e4e4e" stroke-width="2.3" />
<line x1="1456.3" y1="1108.1" x2="1446.3" y2="1108.1" stroke="#4e4e4e" stroke-width="2.3" />
<line x1="886.5" y1="1010.3" x2="896.5" y2="1010.3" stroke="#4e4e4e" stroke-width="2.3" />
<line x1="1456.3" y1="1010.3" x2="1446.3" y2="1010.3" stroke="#4e4e4e" stroke-width="2.3" />
<line x1="886.5" y1="912.5" x2="896.5" y2="912.5" stroke="#4e4e4e" stroke-width="2.3" />
<line x1="1456.3" y1="912.5" x2="1446.3" y2="912.5" stroke="#4e4e4e" stroke-width="2.3" />
<line x1="886.5" y1="814.7" x2="896.5" y2="814.7" stroke="#4e4e4e" stroke-width="2.3" />
<line x1="1456.3" y1="814.7" x2="1446.3" y2="814.7" stroke="#4e4e4e" stroke-width="2.3" />
<line x1="886.5" y1="1157.0" x2="892.0" y2="1157.0" stroke="#4e4e4e" stroke-width="2.3" />
<line x1="1456.3" y1="1157.0" x2="1450.8" y2="1157.0" stroke="#4e4e4e" stroke-width="2.3" />
<line x1="886.5" y1="1059.2" x2="892.0" y2="1059.2" stroke="#4e4e4e" stroke-width="2.3" />
<line x1="1456.3" y1="1059.2" x2="1450.8" y2="1059.2" stroke="#4e4e4e" stroke-width="2.3" />
<line x1="886.5" y1="961.4" x2="892.0" y2="961.4" stroke="#4e4e4e" stroke-width="2.3" />
<line x1="1456.3" y1="961.4" x2="1450.8" y2="961.4" stroke="#4e4e4e" stroke-width="2.3" />
<line x1="886.5" y1="863.6" x2="892.0" y2="863.6" stroke="#4e4e4e" stroke-width="2.3" />
<line x1="1456.3" y1="863.6" x2="1450.8" y2="863.6" stroke="#4e4e4e" stroke-width="2.3" />
<line x1="886.5" y1="765.8" x2="892.0" y2="765.8" stroke="#4e4e4e" stroke-width="2.3" />
<line x1="1456.3" y1="765.8" x2="1450.8" y2="765.8" stroke="#4e4e4e" stroke-width="2.3" />
<line x1="1171.3" y1="1204.8" x2="1171.3" y2="1213.8" stroke="#4e4e4e" stroke-width="2.3" />
<line x1="1171.3" y1="717.0" x2="1171.3" y2="726.0" stroke="#4e4e4e" stroke-width="2.3" />
<line x1="972.2" y1="1204.8" x2="972.2" y2="1210.8" stroke="#4e4e4e" stroke-width="2.3" />
<line x1="972.2" y1="717.0" x2="972.2" y2="722.5" stroke="#4e4e4e" stroke-width="2.3" />
<line x1="1022.4" y1="1204.8" x2="1022.4" y2="1210.8" stroke="#4e4e4e" stroke-width="2.3" />
<line x1="1022.4" y1="717.0" x2="1022.4" y2="722.5" stroke="#4e4e4e" stroke-width="2.3" />
<line x1="1058.0" y1="1204.8" x2="1058.0" y2="1210.8" stroke="#4e4e4e" stroke-width="2.3" />
<line x1="1058.0" y1="717.0" x2="1058.0" y2="722.5" stroke="#4e4e4e" stroke-width="2.3" />
<line x1="1085.6" y1="1204.8" x2="1085.6" y2="1210.8" stroke="#4e4e4e" stroke-width="2.3" />
<line x1="1085.6" y1="717.0" x2="1085.6" y2="722.5" stroke="#4e4e4e" stroke-width="2.3" />
<line x1="1108.1" y1="1204.8" x2="1108.1" y2="1210.8" stroke="#4e4e4e" stroke-width="2.3" />
<line x1="1108.1" y1="717.0" x2="1108.1" y2="722.5" stroke="#4e4e4e" stroke-width="2.3" />
<line x1="1127.2" y1="1204.8" x2="1127.2" y2="1210.8" stroke="#4e4e4e" stroke-width="2.3" />
<line x1="1127.2" y1="717.0" x2="1127.2" y2="722.5" stroke="#4e4e4e" stroke-width="2.3" />
<line x1="1143.7" y1="1204.8" x2="1143.7" y2="1210.8" stroke="#4e4e4e" stroke-width="2.3" />
<line x1="1143.7" y1="717.0" x2="1143.7" y2="722.5" stroke="#4e4e4e" stroke-width="2.3" />
<line x1="1158.3" y1="1204.8" x2="1158.3" y2="1210.8" stroke="#4e4e4e" stroke-width="2.3" />
<line x1="1158.3" y1="717.0" x2="1158.3" y2="722.5" stroke="#4e4e4e" stroke-width="2.3" />
<line x1="1257.0" y1="1204.8" x2="1257.0" y2="1210.8" stroke="#4e4e4e" stroke-width="2.3" />
<line x1="1257.0" y1="717.0" x2="1257.0" y2="722.5" stroke="#4e4e4e" stroke-width="2.3" />
<line x1="1307.2" y1="1204.8" x2="1307.2" y2="1210.8" stroke="#4e4e4e" stroke-width="2.3" />
<line x1="1307.2" y1="717.0" x2="1307.2" y2="722.5" stroke="#4e4e4e" stroke-width="2.3" />
<line x1="1342.8" y1="1204.8" x2="1342.8" y2="1210.8" stroke="#4e4e4e" stroke-width="2.3" />
<line x1="1342.8" y1="717.0" x2="1342.8" y2="722.5" stroke="#4e4e4e" stroke-width="2.3" />
<line x1="1370.4" y1="1204.8" x2="1370.4" y2="1210.8" stroke="#4e4e4e" stroke-width="2.3" />
<line x1="1370.4" y1="717.0" x2="1370.4" y2="722.5" stroke="#4e4e4e" stroke-width="2.3" />
<line x1="1392.9" y1="1204.8" x2="1392.9" y2="1210.8" stroke="#4e4e4e" stroke-width="2.3" />
<line x1="1392.9" y1="717.0" x2="1392.9" y2="722.5" stroke="#4e4e4e" stroke-width="2.3" />
<line x1="1412.0" y1="1204.8" x2="1412.0" y2="1210.8" stroke="#4e4e4e" stroke-width="2.3" />
<line x1="1412.0" y1="717.0" x2="1412.0" y2="722.5" stroke="#4e4e4e" stroke-width="2.3" />
<line x1="1428.5" y1="1204.8" x2="1428.5" y2="1210.8" stroke="#4e4e4e" stroke-width="2.3" />
<line x1="1428.5" y1="717.0" x2="1428.5" y2="722.5" stroke="#4e4e4e" stroke-width="2.3" />
<line x1="1443.1" y1="1204.8" x2="1443.1" y2="1210.8" stroke="#4e4e4e" stroke-width="2.3" />
<line x1="1443.1" y1="717.0" x2="1443.1" y2="722.5" stroke="#4e4e4e" stroke-width="2.3" />
<line x1="886.5" y1="1204.8" x2="886.5" y2="1213.8" stroke="#4e4e4e" stroke-width="2.6" />
<line x1="1456.3" y1="1204.8" x2="1456.3" y2="1213.8" stroke="#4e4e4e" stroke-width="2.6" />
<text x="819.41" y="727.70" font-size="40.68" fill="#111" textLength="57.71" lengthAdjust="spacingAndGlyphs" >3.0</text>
<text x="819.53" y="825.50" font-size="40.68" fill="#111" textLength="57.71" lengthAdjust="spacingAndGlyphs" >2.5</text>
<text x="819.41" y="923.30" font-size="40.68" fill="#111" textLength="57.71" lengthAdjust="spacingAndGlyphs" >2.0</text>
<text x="819.53" y="1021.10" font-size="40.68" fill="#111" textLength="57.71" lengthAdjust="spacingAndGlyphs" >1.5</text>
<text x="819.41" y="1118.90" font-size="40.68" fill="#111" textLength="57.71" lengthAdjust="spacingAndGlyphs" >1.0</text>
<text x="819.53" y="1216.70" font-size="40.68" fill="#111" textLength="57.71" lengthAdjust="spacingAndGlyphs" >0.5</text>
<text x="858.36" y="1251.20" font-size="41.10" fill="#111" textLength="54.65" lengthAdjust="spacingAndGlyphs" >0.1</text>
<text x="1159.53" y="1251.20" font-size="41.10" fill="#111" textLength="21.87" lengthAdjust="spacingAndGlyphs" >1</text>
<text x="1434.91" y="1251.20" font-size="41.10" fill="#111" textLength="43.73" lengthAdjust="spacingAndGlyphs" >10</text>
<text x="974.90" y="1287.62" font-size="38.94" fill="#111" textLength="323.64" lengthAdjust="spacingAndGlyphs" >Carrier density (10</text>
<text x="1299.70" y="1267.18" font-size="22.60" fill="#111" textLength="26.32" lengthAdjust="spacingAndGlyphs" >19</text>
<text x="1325.09" y="1288.90" font-size="40.33" fill="#111" textLength="53.77" lengthAdjust="spacingAndGlyphs" >cm</text>
<text x="1377.68" y="1267.17" font-size="23.45" fill="#111" textLength="20.43" lengthAdjust="spacingAndGlyphs" >-3</text>
<text x="1401.30" y="1287.97" font-size="37.35" fill="#111" textLength="11.18" lengthAdjust="spacingAndGlyphs" >)</text>
<g transform="rotate(-90)">
<text x="-972.17" y="797.70" font-size="41.72" fill="#111" textLength="45.47" lengthAdjust="spacingAndGlyphs" font-style="italic" >ZT</text>
</g>
<text x="740.04" y="695.33" font-size="46.69" fill="#111" textLength="58.32" lengthAdjust="spacingAndGlyphs" >(d)</text>
</svg></body></html>
